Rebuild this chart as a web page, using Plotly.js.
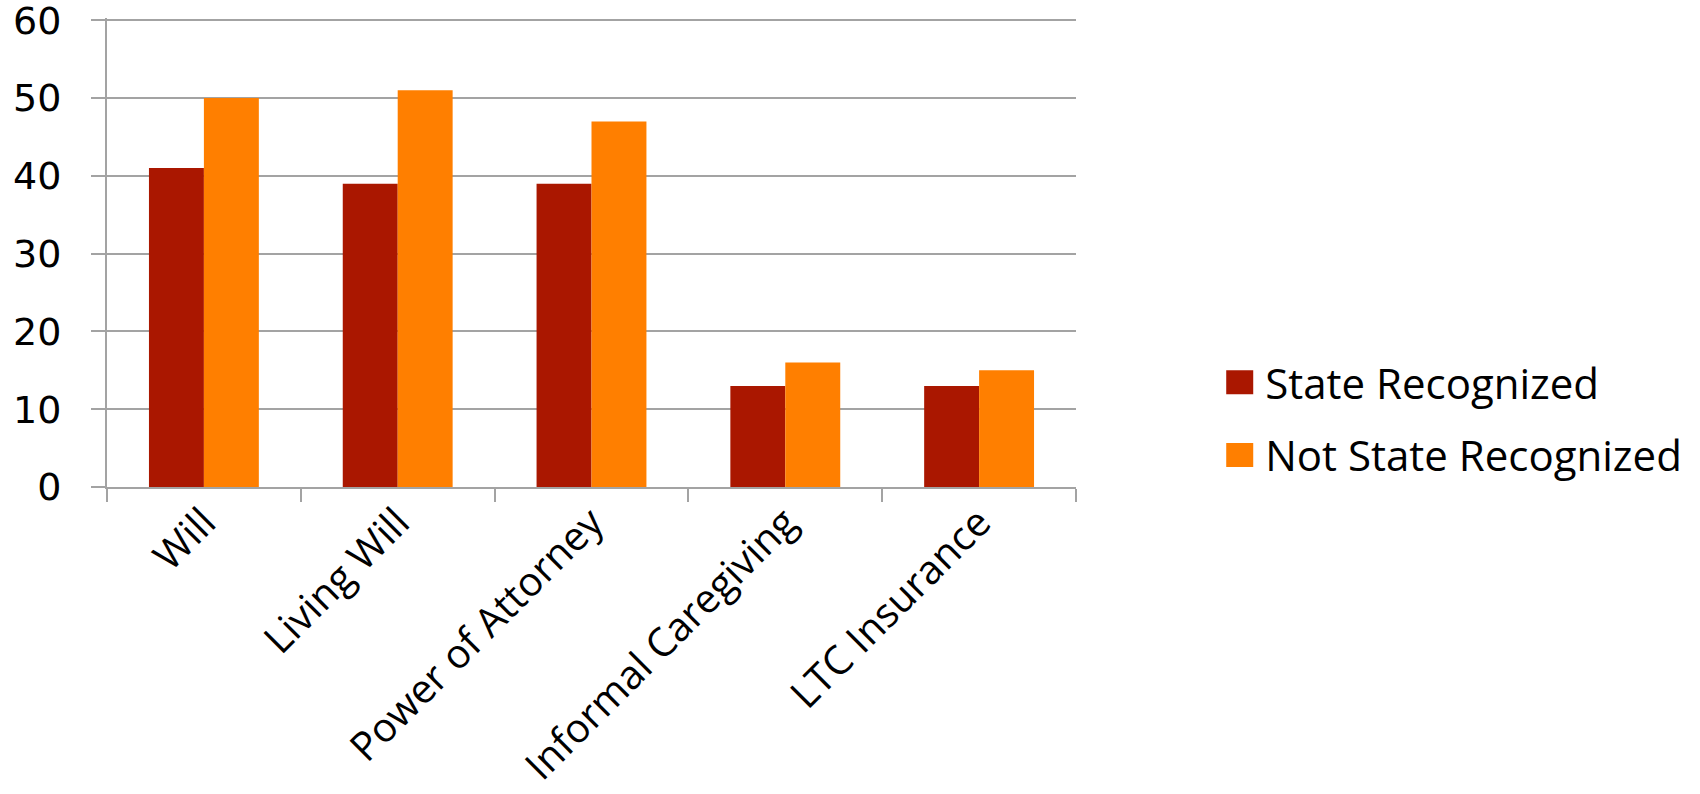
<!DOCTYPE html>
<html>
<head>
<meta charset="utf-8">
<script src="https://cdn.plot.ly/plotly-3.0.1.min.js"></script>
<style>
  html, body { margin: 0; padding: 0; background: #ffffff; }
  #chart { width: 1700px; height: 794px; }
</style>
</head>
<body>
<div id="chart"></div>
<script>
// Planning documents held, by state recognition status (%)
const categories = ['Will', 'Living Will', 'Power of Attorney', 'Informal Caregiving', 'LTC Insurance'];
const stateRecognized = [41, 39, 39, 13, 13];
const notStateRecognized = [50, 51, 47, 16, 15];
const seriesNames = ['State Recognized', 'Not State Recognized'];
const yTicks = [0, 10, 20, 30, 40, 50, 60];

const gridGray = '#a3a3a3';
const textFont = 'Open Sans, Noto Sans, sans-serif';
const numberFont = 'DejaVu Sans, sans-serif';

const traces = [
  {
    type: 'bar',
    name: seriesNames[0],
    x: categories,
    y: stateRecognized,
    marker: { color: '#aa1700', line: { width: 0 } },
    legendgroup: 'a',
    hoverinfo: 'x+y+name'
  },
  {
    type: 'bar',
    name: seriesNames[1],
    x: categories,
    y: notStateRecognized,
    marker: { color: '#ff7f00', line: { width: 0 } },
    legendgroup: 'b',
    hoverinfo: 'x+y+name'
  }
];

const layout = {
  width: 1700,
  height: 794,
  autosize: false,
  margin: { l: 107, r: 624, t: 18, b: 307, pad: 0 },
  paper_bgcolor: '#ffffff',
  plot_bgcolor: '#ffffff',
  barmode: 'group',
  bargap: 0.433,
  bargroupgap: 0,
  font: { family: textFont, color: '#000000' },
  xaxis: {
    type: 'category',
    range: [-0.5, categories.length - 0.5],
    tickson: 'boundaries',
    ticks: 'outside',
    ticklen: 13,
    tickwidth: 2,
    tickcolor: gridGray,
    showline: true,
    linecolor: gridGray,
    linewidth: 2,
    showgrid: false,
    zeroline: false,
    tickangle: -45,
    ticklabelstandoff: -6,
    tickfont: { family: textFont, size: 40, color: '#000000' }
  },
  yaxis: {
    range: [0, 60.3],
    tickvals: yTicks,
    ticktext: yTicks.map(String),
    ticks: 'outside',
    ticklen: 14,
    tickwidth: 2,
    tickcolor: gridGray,
    showline: true,
    linecolor: gridGray,
    linewidth: 2,
    showgrid: true,
    gridcolor: gridGray,
    gridwidth: 2,
    zeroline: false,
    ticklabelstandoff: 22,
    ticklabeloverflow: 'allow',
    tickfont: { family: numberFont, size: 38, color: '#000000' }
  },
  showlegend: true,
  legend: {
    x: 1.154,
    xanchor: 'left',
    y: 0.145,
    yanchor: 'middle',
    bgcolor: 'rgba(0,0,0,0)',
    borderwidth: 0,
    tracegroupgap: 15,
    traceorder: 'grouped',
    itemclick: false,
    itemdoubleclick: false,
    font: { family: textFont, size: 42, color: '#000000' }
  }
};

Plotly.newPlot('chart', traces, layout, { displayModeBar: false }).then(function (gd) {
  // Enlarge the square legend swatches
  gd.querySelectorAll('.legend .legendpoints path').forEach(function (p) {
    p.setAttribute('d', 'M8,12H-19V-12H8Z');
  });
});
</script>
</body>
</html>
